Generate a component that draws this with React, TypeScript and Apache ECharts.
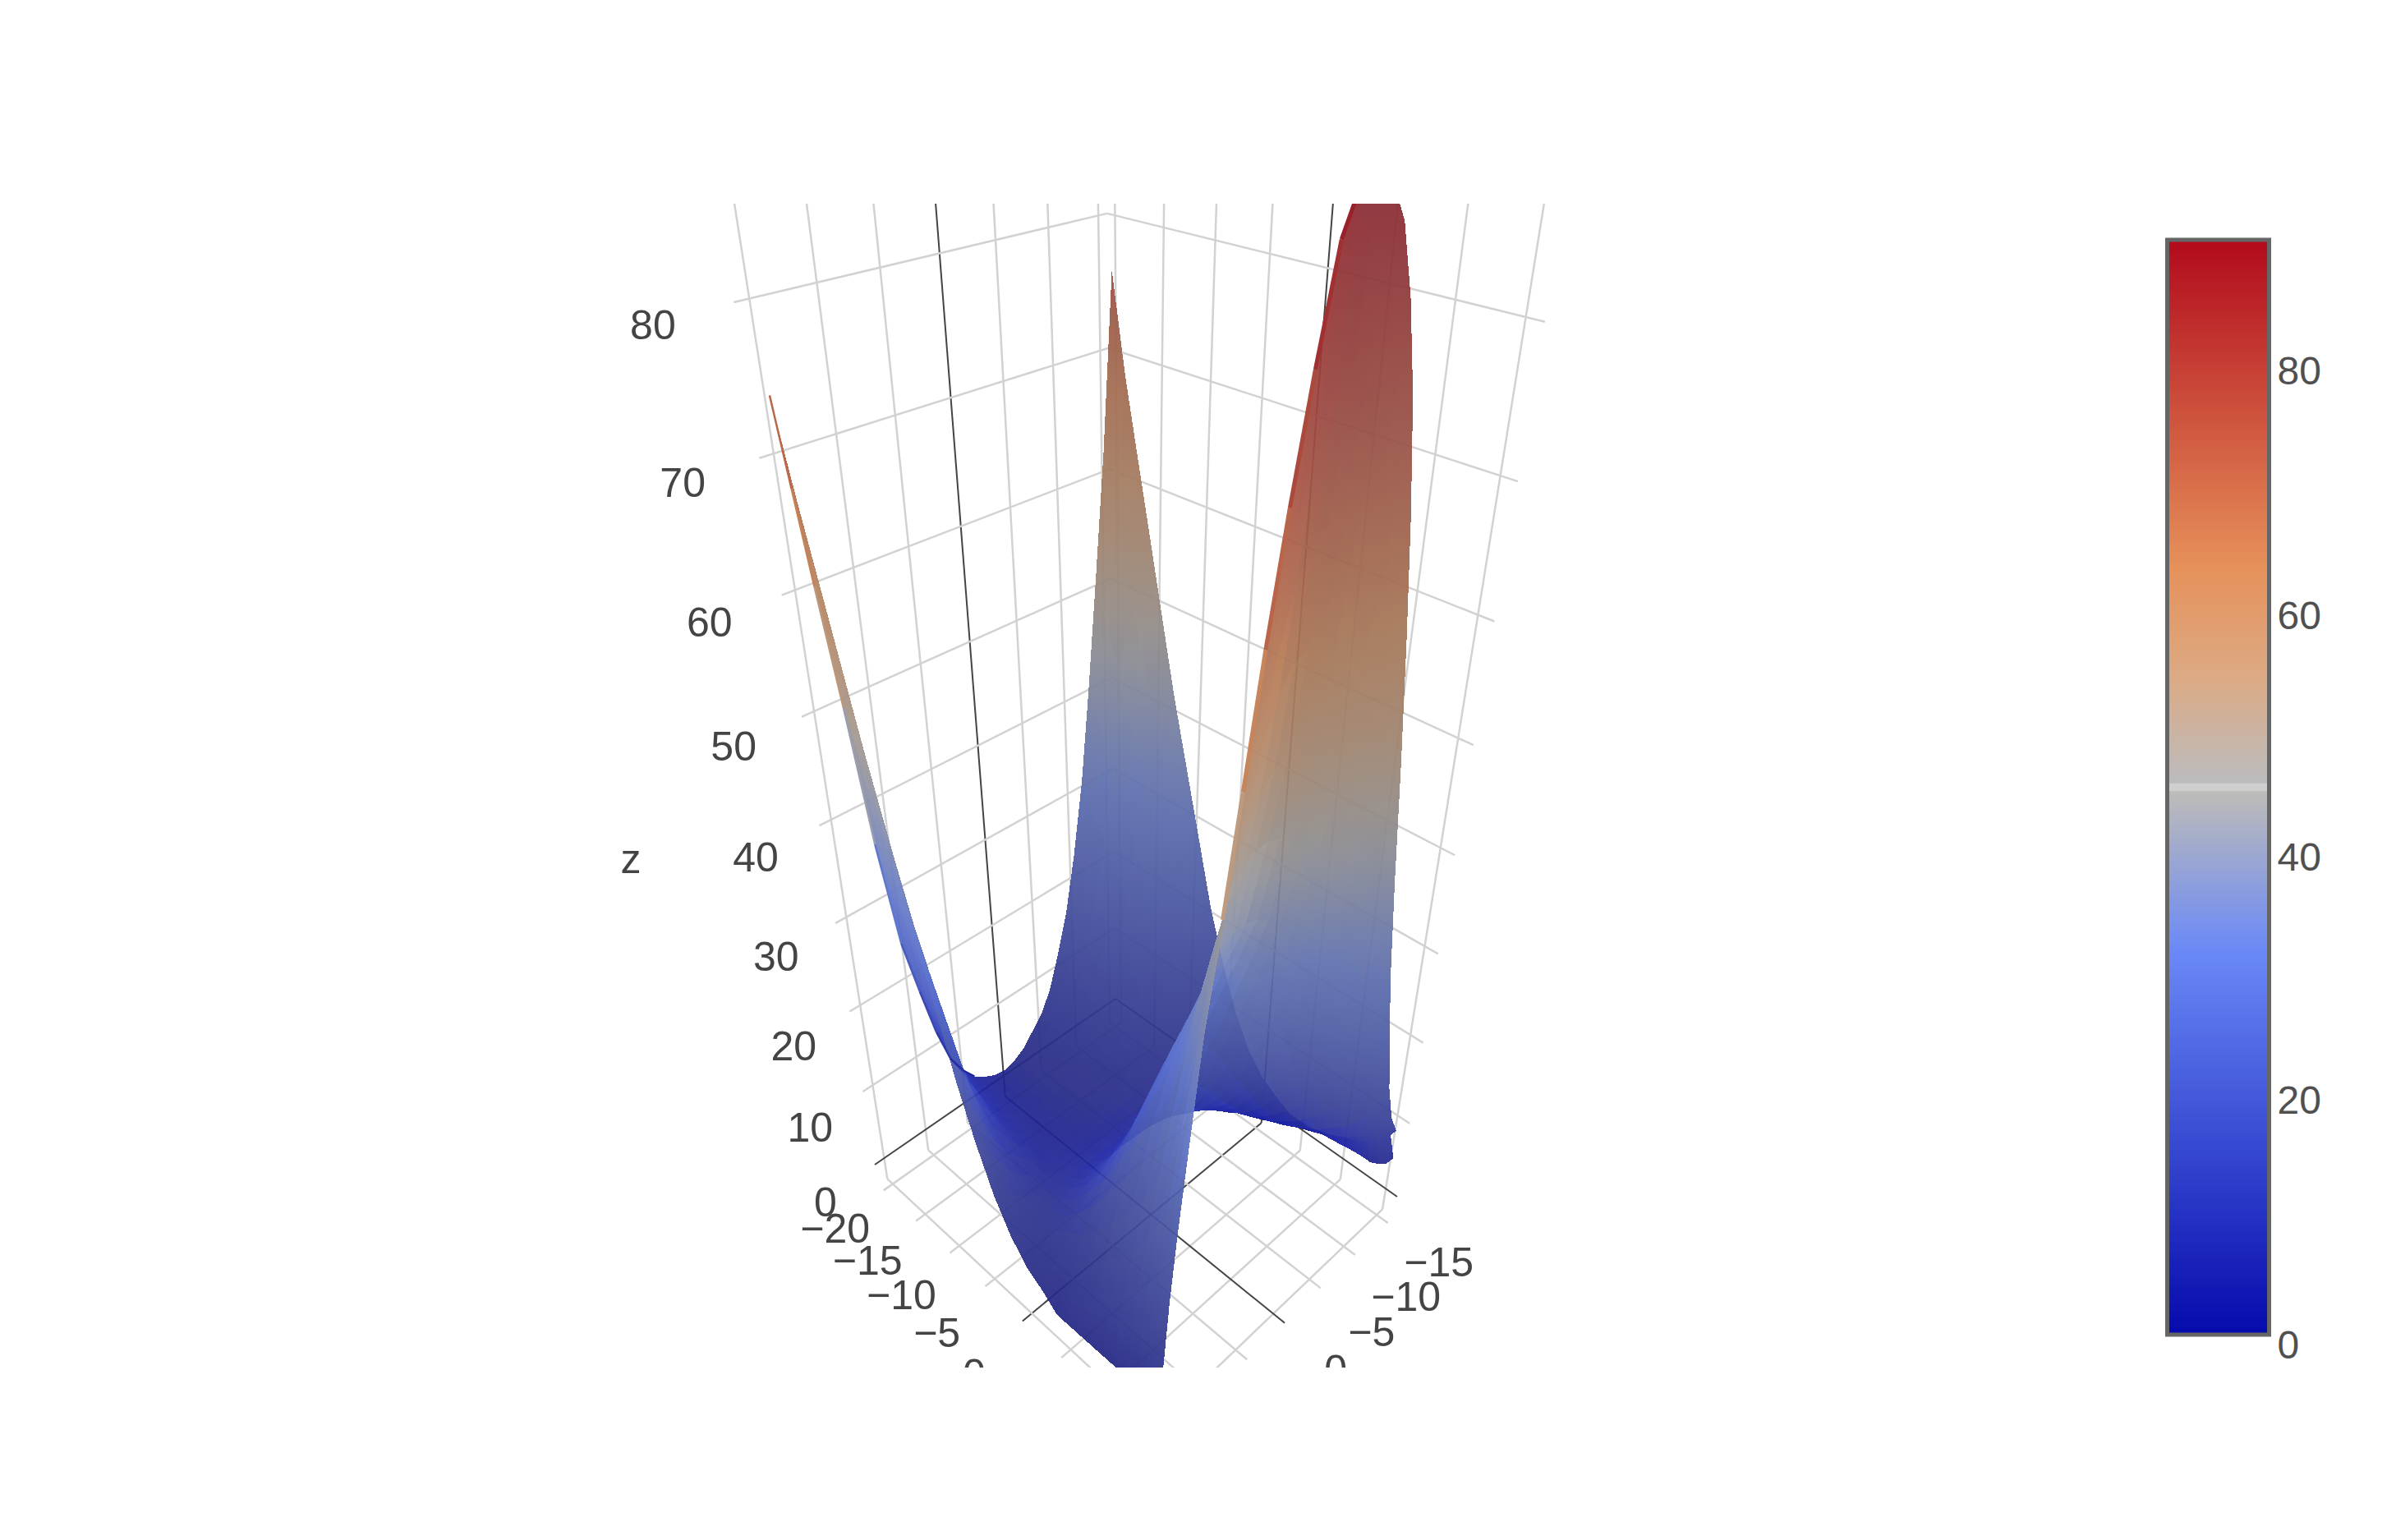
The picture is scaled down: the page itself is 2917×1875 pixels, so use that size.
import React, { useEffect, useRef } from "react";
import * as echarts from "echarts";

const xTicks = [-20, -15, -10, -5, 0, 5, 10, 15];
const yTicks = [-15, -10, -5, 0, 5, 10, 15];
const zTicks = [0, 10, 20, 30, 40, 50, 60, 70, 80];
const xLabelTicks = [-20, -15, -10, -5, 0];
const yLabelTicks = [-15, -10, -5, 0];
const xValues = [-20.39, -19, -17.51, -16.02, -14.53, -13.05, -11.56, -9.71, -7.85, -5.99, -4.13, -2.28, -0.42, 1.44, 3.3, 5.16, 7.01, 8.87, 10.36, 11.84, 12.96, 13.89, 14.63, 15.28, 15.74];
const yValues = [-15.9, -14.78, -13.66, -12.54, -11.42, -10.14, -8.86, -7.58, -6.3, -5.02, -3.74, -2.46, -1.18, 0.1, 1.38, 2.66, 3.94, 5.22, 6.5, 7.78, 9.06, 10.34, 11.62, 12.74, 13.7, 14.34, 14.9];
// z: one row per x value, one column per y value
const zValues: number[][] = [
  [76, 62, 51, 40.5, 31, 23, 16.5, 12, 8, 5.5, 4, 2.5, 1.7, 1.3, 1.5, 2.2, 3.2, 5, 7.5, 12, 18, 24.5, 36, 49.5, 60, 67.5, 74],
  [68.3, 56.4, 46.4, 36.9, 28.2, 21, 15, 11, 7.3, 5.1, 3.7, 2.4, 1.6, 1.3, 1.5, 2.1, 3, 4.6, 6.9, 11, 16.4, 22.3, 32.8, 45.1, 54.6, 61.4, 67.3],
  [61.5, 50.9, 41.8, 33.2, 25.5, 18.9, 13.6, 10, 6.7, 4.7, 3.4, 2.2, 1.6, 1.2, 1.4, 2, 2.8, 4.3, 6.3, 10, 14.9, 20.2, 29.6, 40.7, 49.2, 55.4, 60.7],
  [54.8, 45.3, 37.3, 29.6, 22.7, 16.9, 12.2, 8.9, 6, 4.2, 3.2, 2.1, 1.5, 1.2, 1.4, 1.9, 2.6, 3.9, 5.7, 9, 13.3, 18, 26.4, 36.2, 43.9, 49.3, 54],
  [48, 39.7, 32.7, 26, 19.9, 14.8, 10.7, 7.9, 5.4, 3.8, 2.9, 1.9, 1.4, 1.2, 1.3, 1.8, 2.4, 3.5, 5.1, 8, 11.8, 15.9, 23.2, 31.8, 38.5, 43.3, 47.4],
  [41.3, 34.2, 28.1, 22.4, 17.2, 12.8, 9.3, 6.9, 4.8, 3.5, 2.7, 1.9, 1.5, 1.3, 1.4, 1.8, 2.3, 3.3, 4.6, 7, 10.3, 13.8, 20.1, 27.4, 33.1, 37.2, 40.7],
  [35.3, 29.2, 24.1, 19.2, 14.8, 11.1, 8.1, 6.1, 4.3, 3.2, 2.5, 1.9, 1.5, 1.3, 1.4, 1.8, 2.2, 3, 4.2, 6.2, 9, 11.9, 17.3, 23.5, 28.4, 31.8, 34.8],
  [27.9, 23.1, 19, 15.2, 11.8, 8.9, 6.6, 5.1, 3.7, 2.9, 2.4, 1.9, 1.7, 1.6, 1.7, 1.9, 2.2, 2.9, 3.7, 5.3, 7.4, 9.7, 13.8, 18.7, 22.5, 25.2, 27.5],
  [20.4, 16.9, 14, 11.3, 8.8, 6.8, 5.3, 4.3, 3.4, 2.9, 2.7, 2.4, 2.2, 2.2, 2.2, 2.4, 2.6, 3.1, 3.6, 4.7, 6.1, 7.7, 10.6, 14, 16.6, 18.5, 20.1],
  [14.5, 12.1, 10.1, 8.2, 6.6, 5.3, 4.4, 3.8, 3.4, 3.2, 3.1, 3, 3, 3, 3, 3.1, 3.3, 3.5, 3.8, 4.4, 5.3, 6.3, 8.1, 10.3, 12, 13.3, 14.2],
  [9.4, 7.9, 6.7, 5.6, 4.8, 4.2, 3.8, 3.8, 3.8, 3.9, 4, 4.1, 4.2, 4.2, 4.3, 4.3, 4.4, 4.4, 4.5, 4.7, 5, 5.3, 6.2, 7.3, 8.2, 8.7, 9.2],
  [5.8, 5, 4.4, 3.9, 3.7, 3.6, 3.8, 4.2, 4.6, 5, 5.4, 5.6, 5.8, 5.9, 6, 6, 6, 5.9, 5.7, 5.5, 5.4, 5.2, 5.3, 5.5, 5.6, 5.6, 5.6],
  [3.4, 3, 2.9, 2.9, 3.2, 3.6, 4.3, 5.1, 5.9, 6.6, 7.4, 8.1, 8.7, 9.2, 9.2, 9.2, 9, 8.8, 8.2, 7.6, 6.8, 5.6, 5, 4.5, 4, 3.6, 3.1],
  [2.1, 2.1, 2.2, 2.6, 3.2, 4.1, 5.2, 6.4, 7.6, 8.6, 10, 11, 12, 13, 13.2, 13.2, 13, 12.6, 11.8, 10.8, 9.6, 8, 6.4, 4.5, 3.4, 2.7, 1.8],
  [1, 1.5, 1.9, 2.6, 3.7, 5, 6.6, 8.3, 9.9, 11.4, 13.5, 15, 16.6, 18, 18.3, 18.2, 17.8, 17, 15.8, 14.4, 12.6, 10.4, 7.8, 5.4, 3.4, 2.2, 0.1],
  [1, 2, 2.6, 3.5, 4.9, 6.7, 8.8, 11.2, 13.3, 15.3, 18, 20, 22, 24, 24.3, 24.2, 23.6, 22.7, 21, 19.2, 16.6, 13.8, 10.2, 7, 4.5, 3, 0.15],
  [1.2, 2.7, 3.4, 4.6, 6.4, 8.7, 11.5, 14.6, 17.4, 19.9, 23.2, 25.5, 27.5, 29.5, 29.9, 29.7, 29, 27.9, 25.9, 23.6, 20.5, 17, 13, 9, 5.9, 3.9, 0.2],
  [1.5, 3.4, 4.3, 5.9, 8.3, 11.2, 14.8, 18.7, 22.3, 25.6, 29, 31.5, 33.5, 35, 35.5, 35.3, 34.5, 33, 30.7, 28, 24.5, 20.4, 15.8, 11.2, 7.6, 5, 0.25],
  [1.8, 4.2, 5.3, 7.3, 10.1, 13.6, 18, 22.9, 27.3, 31.2, 34.5, 37, 38.7, 39.6, 40, 39.8, 38.9, 37.4, 34.8, 31.7, 27.7, 23.3, 18.5, 13.6, 9.2, 6.2, 0.3],
  [2, 5, 6.4, 8.7, 12.2, 16.4, 21.7, 27.6, 32.9, 37.6, 41.6, 44.5, 46.6, 47.7, 48.2, 48, 46.9, 45.1, 41.9, 38.2, 33.4, 28.1, 22.3, 16.4, 11.1, 7.4, 0.55],
  [2, 5.8, 7.3, 10.1, 14, 18.9, 25, 31.7, 37.8, 43.3, 47.9, 51.2, 53.7, 54.9, 55.5, 55.2, 53.9, 51.2, 47, 42, 36.6, 31, 25.1, 18.9, 12.8, 8.5, 0.9],
  [2.5, 6.65, 8.4, 11.6, 16.1, 21.7, 28.7, 36.4, 43.4, 49.7, 55, 58.8, 61.6, 63, 63.7, 63.4, 61.8, 58.5, 53.5, 47.8, 41.5, 35.3, 28.7, 21.7, 14.7, 9.8, 1.5],
  [3.2, 7.5, 9.5, 13, 18.2, 24.5, 32.4, 41.1, 49, 56.1, 62, 66.4, 69.5, 71.1, 71.9, 71.5, 69.5, 65.5, 60, 53.5, 46.5, 39.5, 32, 24, 16.6, 11.1, 2.5],
  [4.5, 8.5, 10.7, 14.7, 20.5, 27.6, 36.5, 46.3, 55.2, 63.2, 69.9, 74.8, 78.3, 80.1, 81, 80.5, 78, 73.5, 67, 60, 52, 44, 36, 27, 18.7, 12.5, 4],
  [NaN, 9.5, 12, 16.5, 23, 31, 41, 52, 62, 71, 78.5, 84, 88, 90, 91, 90.5, 88, 82, 75, 67, 58, 49, 40, 30, 21, 14, 6],
];
const colorbarPadding: Record<number, number> = { 80: 0, 60: 8, 40: 10, 20: 16, 0: 24 };
const X0 = -20.85, X1 = 16.3, Y0 = -15.9, Y1 = 16.1, ZF = -3, ZMAX = 90.9;
const U = (x: number) => -1 + 2 * (x - X0) / (X1 - X0);
const V = (y: number) => -1 + 2 * (y - Y0) / (Y1 - Y0);

function proj(x: number, y: number, z: number) {
  const u = U(x), v = V(y), t = z / 80;
  const w = 2.8105 - 0.2275 * u - 0.196 * v - t;
  const X = 3876.85 + 167.6 * u - 682.55 * v - 1381 * t;
  const Y = 4039.5 + 58.25 * u + 48.75 * v - 3352 * t;
  return [X / w, Y / w, w];
}
const STOPS: [number, number[]][] = [[0, [5, 10, 172]], [0.35, [106, 137, 247]], [0.5, [190, 190, 190]], [0.6, [220, 170, 132]], [0.7, [230, 145, 90]], [1, [178, 10, 28]]];
function cs(z: number) {
  const t = Math.min(1, Math.max(0, z / ZMAX));
  for (let i = 1; i < STOPS.length; i++) if (t <= STOPS[i][0]) {
    const [a, ca] = STOPS[i - 1], [b, cb] = STOPS[i], f = (t - a) / (b - a);
    return ca.map((c, k) => c + (cb[k] - c) * f);
  }
  return STOPS[5][1];
}
const cam = [3.273, 3.818, 1.3176 * 1.7];
const NX = xValues.length - 1, NY = yValues.length - 1;
const hasZ = (i: number, k: number) => [zValues[i][k], zValues[i + 1][k], zValues[i + 1][k + 1], zValues[i][k + 1]].every((z) => !Number.isNaN(z));
function rawShade(i: number, k: number) {
  if (!hasZ(i, k)) return 0.5;
  const p = [[i, k], [i + 1, k], [i + 1, k + 1], [i, k + 1]].map(([a, b]) => [U(xValues[a]), V(yValues[b]), zValues[a][b] / 80 * 1.7]);
  const d1 = [p[2][0] - p[0][0], p[2][1] - p[0][1], p[2][2] - p[0][2]], d2 = [p[3][0] - p[1][0], p[3][1] - p[1][1], p[3][2] - p[1][2]];
  const n = [d1[1] * d2[2] - d1[2] * d2[1], d1[2] * d2[0] - d1[0] * d2[2], d1[0] * d2[1] - d1[1] * d2[0]];
  const c = [0, 1, 2].map((m) => cam[m] - (p[0][m] + p[2][m]) / 2);
  const ln = Math.hypot(...n) || 1, lc = Math.hypot(...c);
  const f = Math.abs(n[0] * c[0] + n[1] * c[1] + n[2] * c[2]) / ln / lc;
  return Math.pow(Math.min(1, f / 0.45), 0.7);
}
const raw: number[][] = [];
for (let i = 0; i < NX; i++) { raw.push([]); for (let k = 0; k < NY; k++) raw[i].push(rawShade(i, k)); }
function shadeOf(i: number, k: number) {
  let s = 0, n = 0;
  for (let a = Math.max(0, i - 1); a <= Math.min(NX - 1, i + 1); a++) for (let b = Math.max(0, k - 1); b <= Math.min(NY - 1, k + 1); b++) { s += raw[a][b]; n++; }
  return s / n;
}
function rgb(z: number, F: number) {
  const c = cs(z), s = 1 - 0.42 * F, l = 32 * F;
  return `rgb(${Math.round(c[0] * s + l)},${Math.round(c[1] * s + l)},${Math.round(c[2] * s + l)})`;
}
const col = (z: number, F: number) => rgb(z, Math.max(F, 0.72 * Math.min(1, z / 40)));
const quads: number[][] = [];
for (let i = 0; i < NX; i++) for (let k = 0; k < NY; k++) {
  if (!hasZ(i, k)) continue;
  const w = proj((xValues[i] + xValues[i + 1]) / 2, (yValues[k] + yValues[k + 1]) / 2, (zValues[i][k] + zValues[i + 1][k + 1] + zValues[i + 1][k] + zValues[i][k + 1]) / 4)[2];
  quads.push([i, k, w]);
}
quads.sort((a, b) => b[2] - a[2]);
// outline segments [row, first column, second column, width, shade]
const rimSegs: number[][] = [];
for (let k = 16; k < NY; k++) rimSegs.push([0, k, k + 1, 2.5, 0.5]);
for (let k = 15; k < 21; k++) rimSegs.push([NX, k, k + 1, 5, 0.42 + 0.2 * (21 - k) / 6]);

const grid: number[][] = [];
xTicks.forEach((x) => {
  grid.push([x, Y0, ZF, x, Y1, ZF, x === 0 ? 1 : 0]);
  grid.push([x, Y0, ZF, x, Y0, 98, x === 0 ? 1 : 0]);
});
yTicks.forEach((y) => {
  grid.push([X0, y, ZF, X1, y, ZF, y === 0 ? 1 : 0]);
  grid.push([X0, y, ZF, X0, y, 98, y === 0 ? 1 : 0]);
});
zTicks.forEach((z) => {
  grid.push([X0, Y0, z, X0, Y1, z, z === 0 ? 1 : 0]);
  grid.push([X0, Y0, z, X1, Y0, z, z === 0 ? 1 : 0]);
});
const F = "Liberation Sans";
const labels: any[] = [];
zTicks.forEach((z) => { const p = proj(X0, Y1, z); const m = z >= 30 ? 1 : z / 30; labels.push([p[0] - 60 - (z / 80) * 42 + 3.5 * m, p[1] + 46 - (z / 80) * 22 + 3.5 * m, String(z)]); });
xLabelTicks.forEach((x) => { const p = proj(x, Y1, ZF); const q = (x + 20) / 20; labels.push([p[0] - 59, p[1] + 47 + q * q * 17, String(x).replace("-", "\u2212")]); });
yLabelTicks.forEach((y) => { const p = proj(X1, y, ZF); labels.push([p[0] + 62, p[1] + 48 + (y + 15) / 15 * 9, String(y).replace("-", "\u2212")]); });
labels.push([768, 1046, "z"]);

export default function App() {
  const ref = useRef<HTMLDivElement>(null);
  useEffect(() => {
    const chart = echarts.init(ref.current!, undefined, { renderer: "svg" });
    chart.setOption({
      animation: false,
      backgroundColor: "#fff",
      grid: { left: 2638.5, width: 124, top: 292, height: 1333, show: false, outerBoundsMode: "none" },
      xAxis: { type: "value", min: 0, max: 1, show: false },
      yAxis: {
        type: "value", min: 0, max: ZMAX, interval: 20, position: "right",
        axisLine: { show: false }, axisTick: { show: false }, splitLine: { show: false },
        axisLabel: {
          show: true, margin: 10, color: "#505050", fontSize: 48, fontFamily: F, showMaxLabel: false,
          formatter: (v: number) => (colorbarPadding[v] === undefined ? "" : `{l${v}|${v}}`),
          rich: Object.fromEntries(Object.entries(colorbarPadding).map(([k, p]) => [`l${k}`, { color: "#505050", fontSize: 48, fontFamily: F, padding: [p, 0, 0, 0] }])),
        },
      },
      series: [
        {
          type: "custom", coordinateSystem: "none", z: 1, silent: true, data: grid,
          renderItem: (_: any, api: any) => {
            const a = proj(api.value(0), api.value(1), api.value(2)), b = proj(api.value(3), api.value(4), api.value(5));
            const k = api.value(6);
            return { type: "line", shape: { x1: a[0], y1: a[1], x2: b[0], y2: b[1] }, style: { stroke: k ? "#444" : "#d2d2d2", lineWidth: k ? 2 : 2.5 } };
          },
        },
        {
          type: "custom", coordinateSystem: "none", z: 2, silent: true, data: quads,
          renderItem: (_: any, api: any) => {
            const i = api.value(0), k = api.value(1);
            const c = [[i, k], [i + 1, k], [i + 1, k + 1], [i, k + 1]];
            const pz = c.map(([a, b]) => zValues[a][b]);
            const pts = c.map(([a, b]) => proj(xValues[a], yValues[b], zValues[a][b]));
            const s = shadeOf(i, k);
            let lo = 0, hi = 0;
            pz.forEach((z, m) => { if (z < pz[lo]) lo = m; if (z > pz[hi]) hi = m; });
            const zl = pz[lo], zh = pz[hi];
            const fill = zh - zl < 0.01 ? col(zl, s) : new echarts.graphic.LinearGradient(pts[lo][0], pts[lo][1], pts[hi][0], pts[hi][1], [
              { offset: 0, color: col(zl, s) }, { offset: 0.5, color: col((zl + zh) / 2, s) }, { offset: 1, color: col(zh, s) },
            ], true);
            return { type: "polygon", shape: { points: pts.map((p) => [p[0], p[1]]) }, style: { fill, opacity: 0.93 } };
          },
        },
        {
          type: "custom", coordinateSystem: "none", z: 3, silent: true, data: rimSegs,
          renderItem: (_: any, api: any) => {
            const a = api.value(0), k = api.value(1), m = api.value(2);
            const p = proj(xValues[a], yValues[k], zValues[a][k]), q = proj(xValues[a], yValues[m], zValues[a][m]);
            const z = (zValues[a][k] + zValues[a][m]) / 2;
            return { type: "line", shape: { x1: p[0], y1: p[1], x2: q[0], y2: q[1] }, style: { stroke: rgb(z, api.value(4)), lineWidth: api.value(3) } };
          },
        },
        {
          type: "custom", coordinateSystem: "none", z: 5, silent: true, data: labels.map((l) => [l[0], l[1]]),
          renderItem: (p: any, api: any) => ({ type: "text", x: api.value(0), y: api.value(1), style: { text: labels[p.dataIndex][2], fill: "#444", font: `50px '${F}'`, align: "center", verticalAlign: "middle" } }),
        },
        {
          type: "custom", coordinateSystem: "none", z: 8, silent: true, data: [[0, 0, 2500, 248], [0, 1665, 2500, 210]],
          renderItem: (_: any, api: any) => ({ type: "rect", shape: { x: api.value(0), y: api.value(1), width: api.value(2), height: api.value(3) }, style: { fill: "#fff" } }),
        },
        {
          type: "custom", xAxisIndex: 0, yAxisIndex: 0, coordinateSystem: "cartesian2d", z: 9, silent: true, data: [[0, ZMAX]],
          renderItem: (_: any, api: any) => {
            const a = api.coord([0, 0]), b = api.coord([1, ZMAX]);
            const st = STOPS.flatMap(([o, c]) => {
              const s = `rgb(${c.join(",")})`; const off = 1 - o;
              return o === 0.5 ? [{ offset: off - 0.004, color: "rgb(187,188,190)" }, { offset: off - 0.003, color: "rgb(207,207,206)" }, { offset: off + 0.003, color: "rgb(207,207,206)" }, { offset: off + 0.004, color: "rgb(190,188,184)" }] : [{ offset: off, color: s }];
            }).sort((p, q) => p.offset - q.offset);
            return { type: "rect", shape: { x: a[0], y: b[1], width: b[0] - a[0], height: a[1] - b[1] }, style: { fill: new echarts.graphic.LinearGradient(0, 0, 0, 1, st), stroke: "#666", lineWidth: 5 } };
          },
        },
      ],
    });
    return () => chart.dispose();
  }, []);
  return (
    <div>
      <style>{`body{margin:0}path[fill-opacity]{shape-rendering:crispEdges}`}</style>
      <div ref={ref} style={{ width: 2917, height: 1875 }} />
    </div>
  );
}
